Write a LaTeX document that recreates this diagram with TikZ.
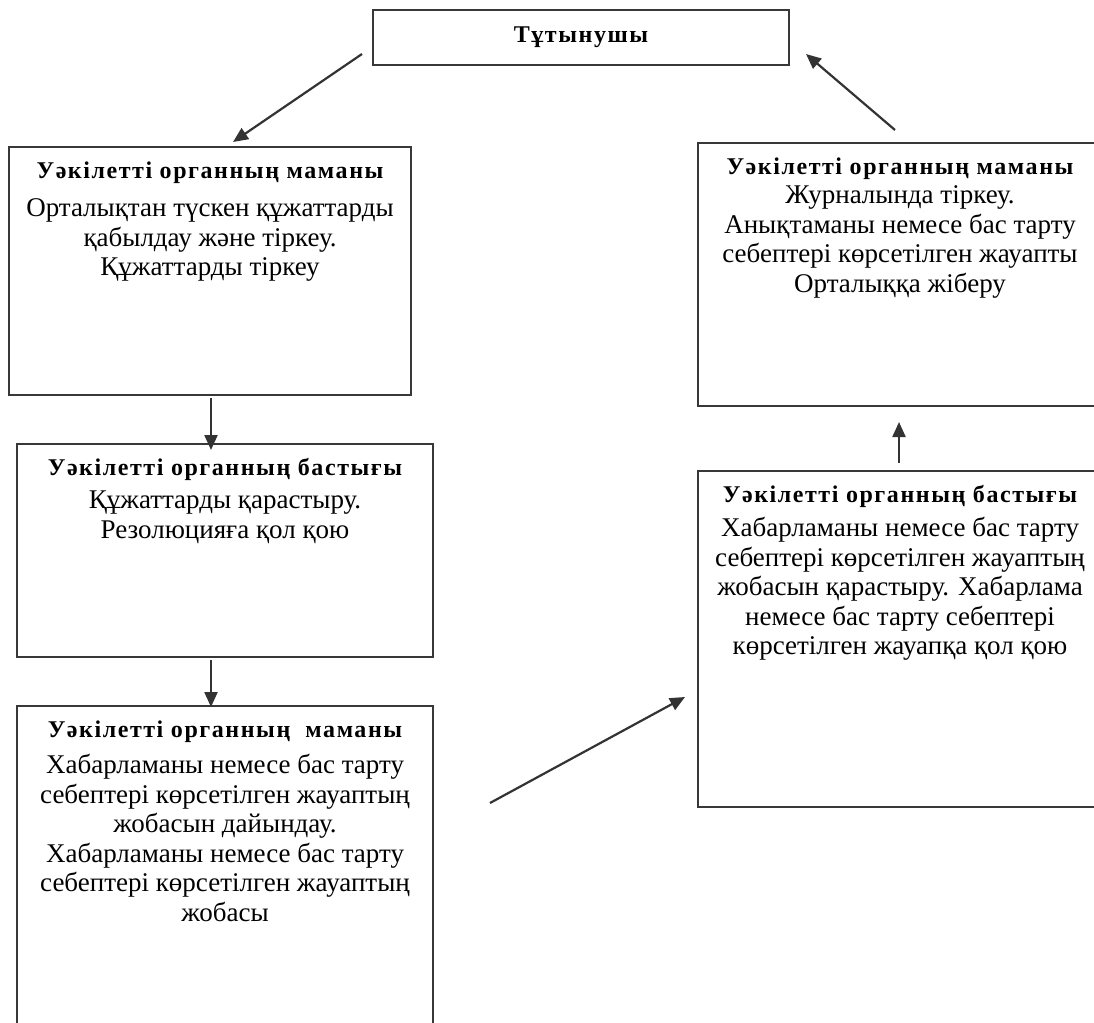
\documentclass[tikz,border=0pt]{standalone}
\usepackage{fontspec}
\setmainfont{Liberation Serif}
\newfontfamily\headfont[LetterSpace=6.5]{Liberation Serif Bold}
\usetikzlibrary{arrows.meta}

% body text and heading styles
\newcommand{\bodysize}{\fontsize{27}{29.5}\selectfont}
\newcommand{\head}[1]{\rule{0pt}{31pt}{\headfont\fontsize{24}{29.5}\selectfont #1}}
% box with text hanging from its top edge
\newcommand{\boxtext}[3]{\parbox[t][#2pt][t]{#1pt}{\centering\bodysize #3\par}}

\begin{document}
\begin{tikzpicture}[x=1pt,y=-1pt,
  stage/.style={draw=black!78,line width=2.2pt,inner sep=0pt,outer sep=0pt,anchor=north west},
  flow/.style={draw=black!80,line width=2.2pt,-{Triangle[length=15pt,width=13pt]}}]
\clip (0,0) rectangle (1094,1022);
\fill[white] (0,0) rectangle (1094,1022);

% client
\node[stage,minimum width=416pt,minimum height=55pt,anchor=center] (client) at (581,37.5)
  {{\headfont\fontsize{24}{29.5}\selectfont Тұтынушы}};

% left column
\node[stage] (recv) at (9,147) {\boxtext{402}{248}{\head{Уәкілетті органның маманы}\\[9pt]
  Орталықтан түскен құжаттарды\\ қабылдау және тіркеу.\\ Құжаттарды тіркеу}};
\node[stage] (chief) at (17,444) {\boxtext{416}{213}{\head{Уәкілетті органның бастығы}\\[4pt]
  Құжаттарды қарастыру.\\ Резолюцияға қол қою}};
\node[stage] (draft) at (17,706) {\boxtext{416}{330}{\head{Уәкілетті органның\ \ маманы}\\[7pt]
  Хабарламаны немесе бас тарту\\ себептері көрсетілген жауаптың\\ жобасын дайындау.\\
  Хабарламаны немесе бас тарту\\ себептері көрсетілген жауаптың\\ жобасы}};

% right column
\node[stage] (sign) at (698,471) {\boxtext{404}{336}{\head{Уәкілетті органның бастығы}\\[5pt]
  Хабарламаны немесе бас тарту\\ себептері көрсетілген жауаптың\\ жобасын қарастыру. Хабарлама\\
  немесе бас тарту себептері\\ көрсетілген жауапқа қол қою}};
\node[stage] (send) at (698,143) {\boxtext{404}{263}{\head{Уәкілетті органның маманы}\\
  Журналында тіркеу.\\ Анықтаманы немесе бас тарту\\ себептері көрсетілген жауапты\\ Орталыққа жіберу}};

% free ends of the connectors
\coordinate (c1) at (362,54);
\coordinate (r1) at (233,142);
\coordinate (d1) at (490,803);
\coordinate (s1) at (685,697);
\coordinate (e1) at (895,130);
\coordinate (e2) at (806,54);

\draw[flow] (c1) -- (r1);
\draw[flow] ([xshift=1pt,yshift=-3pt]recv.south) -- ([xshift=1pt,yshift=-6pt]recv.south |- chief.north);
\draw[flow] ([xshift=-14pt,yshift=-3pt]chief.south) -- ([xshift=-14pt,yshift=-1pt]chief.south |- draft.north);
\draw[flow] (d1) -- (s1);
\draw[flow] ([xshift=-1pt,yshift=8pt]sign.north) -- ([xshift=-1pt,yshift=-16pt]sign.north |- send.south);
\draw[flow] (e1) -- (e2);
\end{tikzpicture}
\end{document}
